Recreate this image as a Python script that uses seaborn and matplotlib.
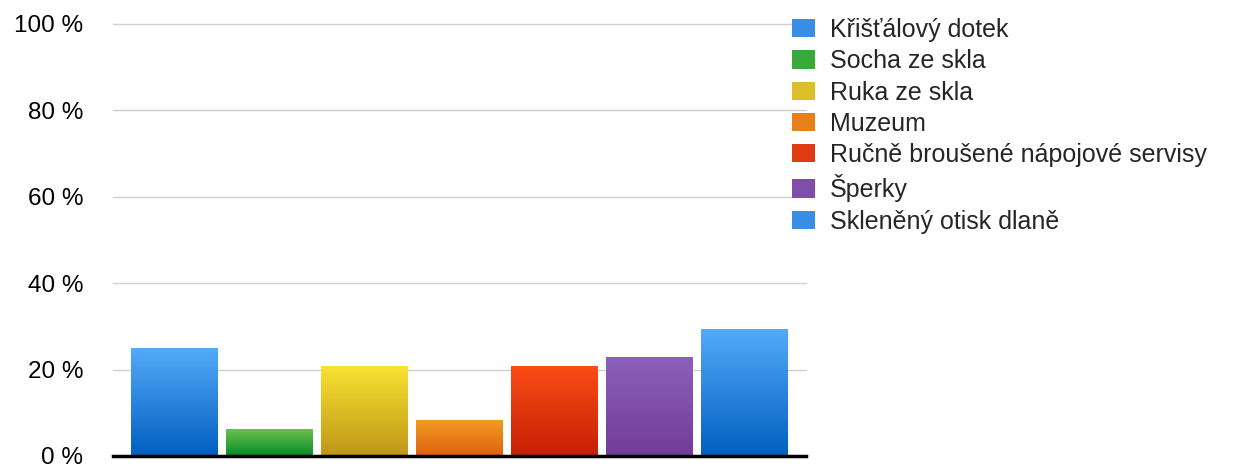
import numpy as np
import pandas as pd
import matplotlib
matplotlib.use("Agg")
import matplotlib.pyplot as plt
import seaborn as sns
from matplotlib.patches import Patch
from matplotlib.colors import LinearSegmentedColormap

categories = ["Křišťálový dotek", "Socha ze skla", "Ruka ze skla", "Muzeum",
              "Ručně broušené nápojové servisy", "Šperky", "Skleněný otisk dlaně"]
values = [25.0, 6.25, 20.8, 8.3, 20.8, 22.9, 29.2]
tick_values = [0, 20, 40, 60, 80, 100]
tick_labels = ["0 %", "20 %", "40 %", "60 %", "80 %", "100 %"]
top_colors = ["#55aaf9", "#6cc24c", "#f9e232", "#f29c22", "#fb4c16", "#8c60ba", "#55aaf9"]
bottom_colors = ["#005fc0", "#06892a", "#be9618", "#de6010", "#c52004", "#713c97", "#005fc0"]

sns.set_theme(style="white")
plt.rcParams['font.family'] = ['Liberation Sans', 'DejaVu Sans']

fig = plt.figure(figsize=(12.41, 4.68), dpi=100)
ax = fig.add_axes([113/1241, 12/468, 693/1241, 432/468])

df = pd.DataFrame({"cat": categories, "val": values})
sns.barplot(data=df, x="cat", y="val", hue="cat", palette=top_colors, width=0.91,
            dodge=False, legend=False, ax=ax, saturation=1)

for i, p in enumerate(ax.patches):
    x0, y0 = p.get_x(), p.get_y()
    w, h = p.get_width(), p.get_height()
    cmap = LinearSegmentedColormap.from_list("g%d" % i, [bottom_colors[i], top_colors[i]])
    grad = np.linspace(0, 1, 256).reshape(-1, 1)
    ax.imshow(grad, extent=[x0, x0 + w, y0, y0 + h], origin="lower", cmap=cmap,
              aspect="auto", zorder=3, interpolation="bicubic")
    p.set_visible(False)

ax.set_xlim(-0.645, 6.645)
ax.set_ylim(0, 100)
ax.set_yticks(tick_values)
ax.set_yticklabels(tick_labels, fontsize=17.5, color="black")
ax.tick_params(axis="y", length=0, pad=21.5)
ax.set_xticks([])
ax.set_xlabel("")
ax.set_ylabel("")
for y in tick_values[1:]:
    ax.axhline(y, color="#cfcfcf", lw=1.0, zorder=1, clip_on=False)
for s in ["top", "right", "left"]:
    ax.spines[s].set_visible(False)
ax.spines["bottom"].set_color("black")
ax.spines["bottom"].set_linewidth(2.5)
ax.spines["bottom"].set_zorder(5)

handles = [Patch(facecolor=c, edgecolor="none") for c in
           ["#3a8ee6", "#3aa83a", "#dcc02a", "#e8801a", "#e23a10", "#7e4ea8", "#3a8ee6"]]
fig.legend(handles, categories, loc="upper left", bbox_to_anchor=(792/1241, 450/468),
           frameon=False, fontsize=18, handlelength=0.9, handleheight=0.75,
           handletextpad=0.62, labelspacing=0.29, borderaxespad=0, borderpad=0)

fig.savefig("out.png", dpi=100)
